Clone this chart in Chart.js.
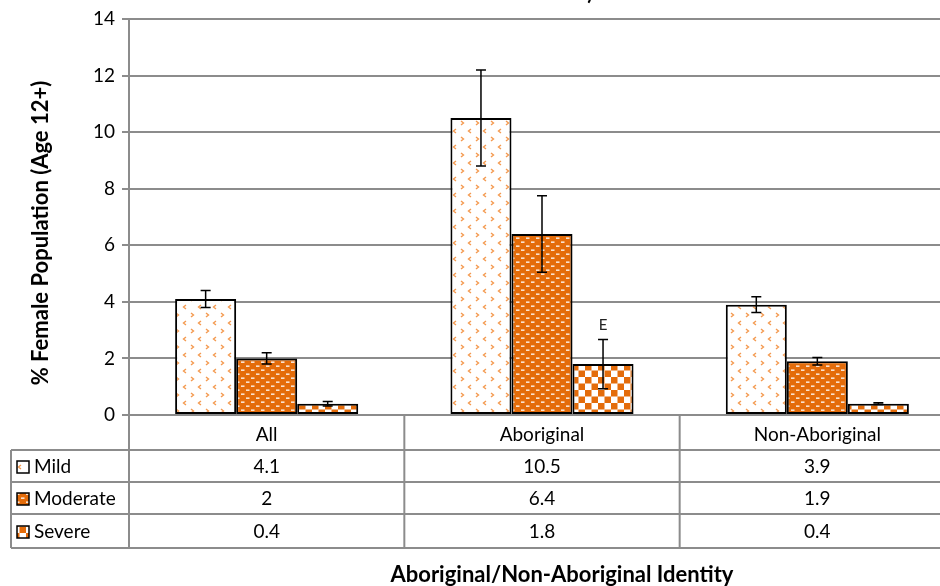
<!DOCTYPE html>
<html>
<head>
<meta charset="utf-8">
<script src="https://cdn.jsdelivr.net/npm/chart.js@4/dist/chart.umd.min.js"></script>
<style>
  html, body { margin: 0; padding: 0; background: #fff; overflow: hidden; }
  #wrap { width: 956px; height: 586px; }
</style>
</head>
<body>
<div id="wrap"><canvas id="chart" width="956" height="586"></canvas></div>
<script>
  const categories = ['All', 'Aboriginal', 'Non-Aboriginal'];
  const seriesNames = ['Mild', 'Moderate', 'Severe'];
  const mildValues = [4.1, 10.5, 3.9];
  const moderateValues = [2, 6.4, 1.9];
  const severeValues = [0.4, 1.8, 0.4];
  const mildErr = [0.3, 1.7, 0.28];
  const moderateErr = [0.2, 1.35, 0.13];
  const severeErr = [0.08, 0.87, 0.03];
  const severeFlags = ['', 'E', ''];
  const yTicks = [0, 2, 4, 6, 8, 10, 12, 14];

  const ORANGE = '#e46c0a';
  const LIGHT_ORANGE = '#f49a50';
  const GRID = '#8c8c8c';
  const FONT = 'Lato, "Open Sans", Arial, sans-serif';

  function makeTile(w, h, draw) {
    const c = document.createElement('canvas');
    c.width = w;
    c.height = h;
    draw(c.getContext('2d'));
    return document.createElement('canvas').getContext('2d').createPattern(c, 'repeat');
  }

  // white with small orange chevrons
  const mildPattern = makeTile(15, 16, function (g) {
    g.fillStyle = '#fff';
    g.fillRect(0, 0, 15, 16);
    g.strokeStyle = LIGHT_ORANGE;
    g.lineWidth = 1.4;
    g.beginPath();
    g.moveTo(6, 1); g.lineTo(3.5, 3); g.lineTo(6, 5);
    g.moveTo(11, 9); g.lineTo(13.5, 11); g.lineTo(11, 13);
    g.stroke();
  });

  // orange with small white dashes
  const moderatePattern = makeTile(10, 8, function (g) {
    g.fillStyle = ORANGE;
    g.fillRect(0, 0, 10, 8);
    g.fillStyle = '#fff';
    g.fillRect(1, 1.5, 3.5, 1.3);
    g.fillRect(6, 5.5, 3.5, 1.3);
  });

  // orange / white checkerboard
  const severePattern = makeTile(13, 13, function (g) {
    g.fillStyle = '#fff';
    g.fillRect(0, 0, 13, 13);
    g.fillStyle = ORANGE;
    g.fillRect(0, 0, 6.5, 6.5);
    g.fillRect(6.5, 6.5, 6.5, 6.5);
  });

  const patterns = [mildPattern, moderatePattern, severePattern];
  const seriesValues = [mildValues, moderateValues, severeValues];
  const seriesErrors = [mildErr, moderateErr, severeErr];

  const errorBars = {
    id: 'errorBars',
    afterDatasetsDraw(chart) {
      const { ctx } = chart;
      const y = chart.scales.y;
      ctx.save();
      ctx.strokeStyle = '#000';
      ctx.lineWidth = 1.5;
      chart.data.datasets.forEach(function (ds, di) {
        const meta = chart.getDatasetMeta(di);
        meta.data.forEach(function (bar, i) {
          const v = ds.data[i];
          const e = seriesErrors[di][i];
          const top = y.getPixelForValue(v + e);
          const bot = y.getPixelForValue(v - e);
          ctx.beginPath();
          ctx.moveTo(bar.x, top); ctx.lineTo(bar.x, bot);
          ctx.moveTo(bar.x - 5, top); ctx.lineTo(bar.x + 5, top);
          ctx.moveTo(bar.x - 5, bot); ctx.lineTo(bar.x + 5, bot);
          ctx.stroke();
          if (di === 2 && severeFlags[i]) {
            ctx.fillStyle = '#222';
            ctx.font = '15px ' + FONT;
            ctx.textAlign = 'center';
            ctx.textBaseline = 'bottom';
            ctx.fillText(severeFlags[i], bar.x, top - 7);
          }
        });
      });
      ctx.restore();
    }
  };

  const dataTable = {
    id: 'dataTable',
    afterDraw(chart) {
      const { ctx, chartArea } = chart;
      const x = chart.scales.x;
      const w = chart.width;
      const rowTops = [450, 482, 514, 548];
      const tableLeft = 11;
      const bounds = [chartArea.left];
      for (let i = 0; i < categories.length - 1; i++) {
        bounds.push((x.getPixelForTick(i) + x.getPixelForTick(i + 1)) / 2);
      }

      ctx.save();
      ctx.strokeStyle = GRID;
      ctx.lineWidth = 2;
      ctx.beginPath();
      bounds.forEach(function (bx) {
        ctx.moveTo(bx, chartArea.bottom);
        ctx.lineTo(bx, rowTops[3]);
      });
      ctx.moveTo(tableLeft, rowTops[0]);
      ctx.lineTo(tableLeft, rowTops[3]);
      rowTops.forEach(function (ry) {
        ctx.moveTo(tableLeft, ry);
        ctx.lineTo(w, ry);
      });
      ctx.stroke();

      ctx.font = '19px ' + FONT;
      ctx.textBaseline = 'middle';
      ctx.fillStyle = '#000';
      seriesNames.forEach(function (name, si) {
        const cy = (rowTops[si] + rowTops[si + 1]) / 2 + 1;
        ctx.fillStyle = patterns[si];
        ctx.fillRect(17, cy - 6, 12, 12);
        ctx.strokeStyle = '#000';
        ctx.lineWidth = 1.5;
        ctx.strokeRect(17, cy - 6, 12, 12);
        ctx.fillStyle = '#000';
        ctx.textAlign = 'left';
        ctx.fillText(name, 34, cy);
        ctx.textAlign = 'center';
        seriesValues[si].forEach(function (v, ci) {
          ctx.fillText(String(v), x.getPixelForTick(ci), cy);
        });
      });

      ctx.font = 'bold 22px ' + FONT;
      ctx.textAlign = 'center';
      ctx.textBaseline = 'middle';
      ctx.fillText('Aboriginal/Non-Aboriginal Identity', 562, 575);

      // y axis title
      ctx.save();
      ctx.translate(41, 233);
      ctx.rotate(-Math.PI / 2);
      ctx.font = 'bold 22px ' + FONT;
      ctx.fillText('% Female Population (Age 12+)', 0, 0);
      ctx.restore();

      // clipped tail of the title above the frame
      ctx.font = 'bold 20px ' + FONT;
      ctx.textBaseline = 'alphabetic';
      ctx.fillText(')', 590, 0);
      ctx.restore();
    }
  };

  new Chart(document.getElementById('chart').getContext('2d'), {
    type: 'bar',
    plugins: [errorBars, dataTable],
    data: {
      labels: categories,
      datasets: seriesNames.map(function (name, i) {
        return {
          label: name,
          data: seriesValues[i],
          backgroundColor: patterns[i],
          borderColor: '#000',
          borderWidth: 2,
          borderSkipped: false,
          categoryPercentage: 0.665,
          barPercentage: 1
        };
      })
    },
    options: {
      responsive: false,
      animation: false,
      layout: { padding: { left: 0, right: 1, top: 19, bottom: 136 } },
      plugins: {
        legend: { display: false },
        tooltip: { enabled: false }
      },
      scales: {
        x: {
          grid: { display: false },
          border: { display: false },
          ticks: {
            color: '#000',
            padding: 0,
            font: { family: FONT, size: 19 }
          },
          afterFit(scale) { scale.height = 35; }
        },
        y: {
          min: 0,
          max: 14,
          afterBuildTicks(scale) {
            scale.ticks = yTicks.map(function (v) { return { value: v }; });
          },
          grid: { color: GRID, lineWidth: 2, tickLength: 7 },
          border: { display: true, color: GRID, width: 2 },
          ticks: {
            color: '#000',
            padding: 7,
            font: { family: FONT, size: 19 }
          },
          afterFit(scale) { scale.width = 129; }
        }
      }
    }
  });
</script>
</body>
</html>
